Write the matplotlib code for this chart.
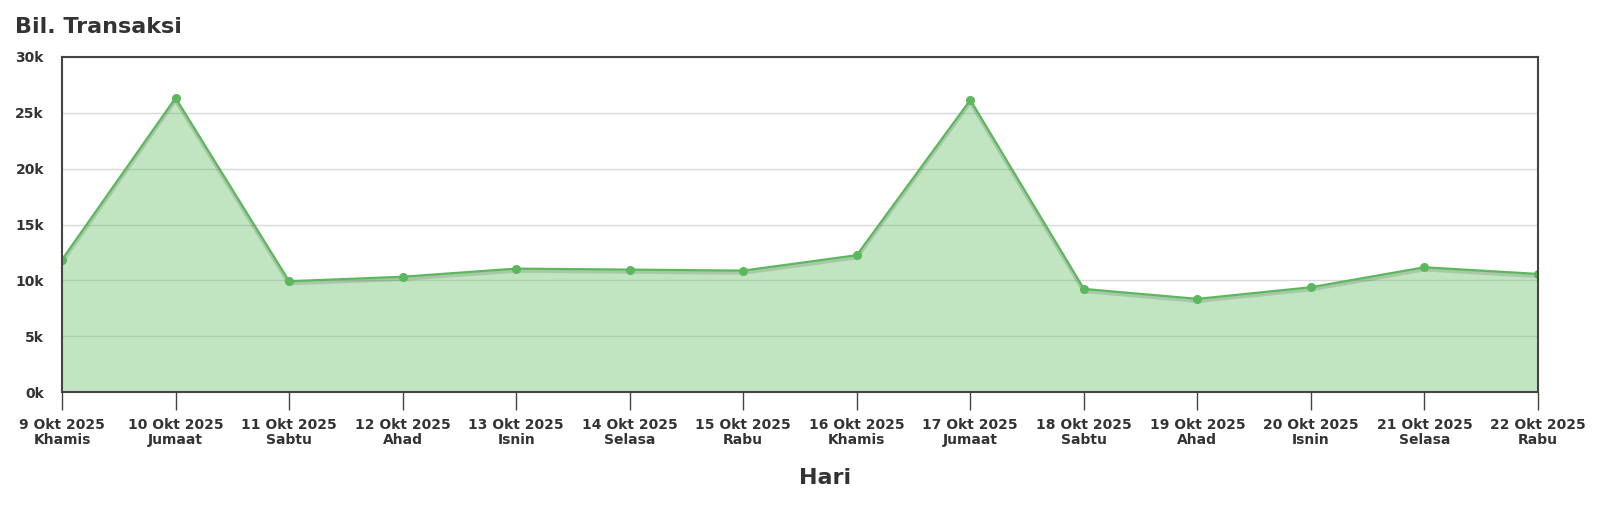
import matplotlib.pyplot as plt
import matplotlib.patheffects as pe
from matplotlib.ticker import FuncFormatter

# data
tarikh = ['9 Okt 2025', '10 Okt 2025', '11 Okt 2025', '12 Okt 2025', '13 Okt 2025',
          '14 Okt 2025', '15 Okt 2025', '16 Okt 2025', '17 Okt 2025', '18 Okt 2025',
          '19 Okt 2025', '20 Okt 2025', '21 Okt 2025', '22 Okt 2025']
hari = ['Khamis', 'Jumaat', 'Sabtu', 'Ahad', 'Isnin', 'Selasa', 'Rabu',
        'Khamis', 'Jumaat', 'Sabtu', 'Ahad', 'Isnin', 'Selasa', 'Rabu']
transaksi = [11850, 26330, 9920, 10320, 11050, 10960, 10870,
             12250, 26150, 9230, 8340, 9380, 11170, 10570]

hijau = '#5cb85c'
teks = '#333333'

plt.rcParams['font.family'] = 'DejaVu Sans'
fig = plt.figure(figsize=(16, 5.23), dpi=100)
ax = fig.add_axes([62 / 1600, 1 - 392 / 523, (1538 - 62) / 1600, (392 - 57) / 523])

x = list(range(len(tarikh)))
ax.fill_between(x, transaksi, 0, color=hijau, alpha=0.38, linewidth=0, zorder=2)
ax.plot(x, transaksi, color=hijau, linewidth=1.6, zorder=3,
        path_effects=[pe.SimpleLineShadow(offset=(0, -1.5), alpha=0.12, linewidth=3), pe.Normal()])
ax.plot(x, transaksi, linestyle='none', marker='o', markersize=5.5, color=hijau, zorder=4)

ax.set_xlim(0, len(x) - 1)
ax.set_ylim(0, 30000)
ax.set_yticks(range(0, 30001, 5000))
ax.yaxis.set_major_formatter(FuncFormatter(lambda v, p: f'{int(v / 1000)}k'))
ax.set_xticks(x)
ax.set_xticklabels([f'{t}\n{h}' for t, h in zip(tarikh, hari)])

ax.grid(axis='y', color='#d9d9d9', linewidth=1, zorder=1)
ax.set_axisbelow(True)
for s in ax.spines.values():
    s.set_color('#444444')
    s.set_linewidth(1.5)
    s.set_zorder(5)

ax.tick_params(axis='x', length=13, width=1, color='#444444', pad=6,
               labelsize=10, labelcolor=teks)
ax.tick_params(axis='y', length=0, pad=13, labelsize=10, labelcolor=teks)
for lbl in ax.get_xticklabels() + ax.get_yticklabels():
    lbl.set_fontweight('bold')
for lbl in ax.get_xticklabels():
    lbl.set_linespacing(1.05)

fig.text(15 / 1600, 1 - 27 / 523, 'Bil. Transaksi', fontsize=16, fontweight='bold',
         color=teks, va='center', ha='left')
fig.text(825 / 1600, 1 - 478 / 523, 'Hari', fontsize=16, fontweight='bold',
         color=teks, va='center', ha='center')

fig.savefig('out.png', dpi=100)
